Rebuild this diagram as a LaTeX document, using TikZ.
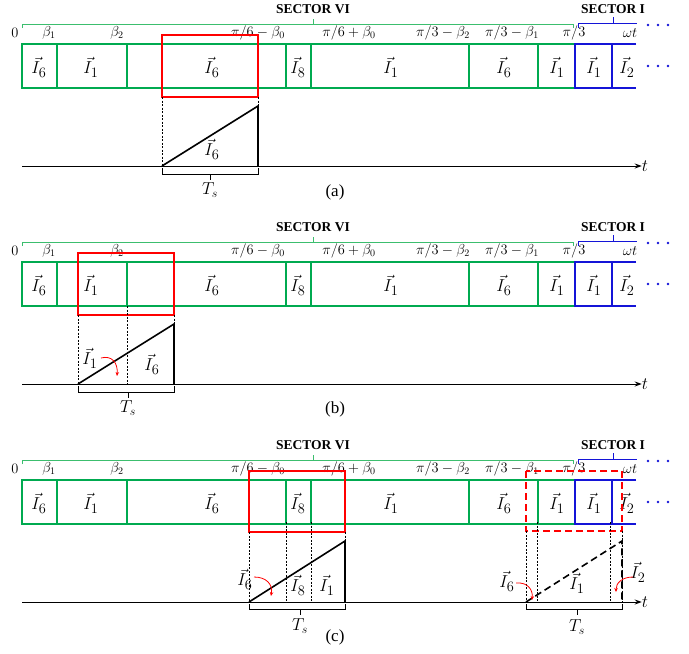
\documentclass[tikz,border=0pt]{standalone}
\usepackage{fontspec}
\setmainfont{Liberation Serif}
\usetikzlibrary{arrows.meta}
\definecolor{boxgreen}{RGB}{0,170,80}
\definecolor{bracegreen}{RGB}{60,190,110}
\definecolor{secblue}{RGB}{20,20,215}

\begin{document}
\begin{tikzpicture}[x=1pt, y=-1pt,
  every node/.style={align=center, inner sep=0pt},
  veclab/.style={font=\fontsize{19}{20}\selectfont},
  anglab/.style={font=\fontsize{14.5}{16}\selectfont},
  seclab/.style={font=\fontsize{13.5}{15}\selectfont\bfseries},
  caplab/.style={font=\fontsize{17}{19}\selectfont},
  greenline/.style={draw=boxgreen, line width=1.6pt},
  blueline/.style={draw=secblue, line width=1.6pt},
  redbox/.style={draw=red, line width=1.7pt},
  guide/.style={dash pattern=on 2pt off 1.5pt, line width=0.4pt},
  ramp/.style={line width=1.6pt},
  swarrow/.style={red, line width=0.8pt, -{Stealth[length=4pt, width=3.5pt]}},
  tsbrace/.style={line width=0.9pt}]
\useasboundingbox (0,0) rectangle (689,654);
\foreach \dy/\p in {0/a,218/b,436/c}{
  \begin{scope}[yshift=-\dy pt]
    \node[seclab] (secvi\p) at (313,9) {SECTOR VI};
    \node[seclab] (seci\p) at (613,9) {SECTOR I};
    \draw[draw=bracegreen, line width=1pt] (22,28) -- (22,24) -- (573,24) -- (573,28) (313,24) -- (313,19);
    \draw[draw=secblue, line width=1pt] (578,28) -- (578,23) -- (637,23) (613,23) -- (613,17);
    \foreach \x/\t in {15/{$0$}, 49/{$\beta_1$}, 117/{$\beta_2$}, 258/{$\pi/6-\beta_0$}, 349/{$\pi/6+\beta_0$},
                       443/{$\pi/3-\beta_2$}, 512/{$\pi/3-\beta_1$}, 574/{$\pi/3$}, 630/{$\omega t$}}
      \node[anglab] (ang\p\x) at (\x,33) {\t};
    \draw[greenline] (22,44) rectangle (575,88);
    \foreach \x in {57,127,286,311,469,538}
      \draw[greenline] (\x,44) -- (\x,88);
    \draw[blueline] (636,44) -- (575,44) -- (575,88) -- (636,88) (612,44) -- (612,88);
    \foreach \x/\n in {39/6, 91/1, 212/6, 298/8, 391/1, 504/6, 557/1, 594/1, 627/2}
      \node[veclab] (vec\p\x) at (\x,67) {$\vec{I}_{\n}$};
    \foreach \x in {648,658,668}{
      \fill[secblue] (\x,25) circle (1.4pt);
      \fill[secblue] (\x,66) circle (1.4pt);
    }
    \node[caplab] (t\p) at (645,166) {$t$};
    \draw[line width=1pt, -{Stealth[length=7pt, width=5pt]}] (22,166) -- (t\p.west);
  \end{scope}
}

\draw[redbox] (162,35) rectangle (258,97);
\draw[guide] (162,97) -- (162,166) (258,97) -- (258,166);
\draw[ramp] (162,166) -- (258,106) -- (258,166);
\node[veclab] (rampa) at (212,149) {$\vec{I}_{6}$};
\draw[tsbrace] (162,168) -- (162,174) -- (258,174) -- (258,168) (210,174) -- (210,180);
\node[caplab] (tsa) at (210,190) {$T_s$};
\node[caplab] (capa) at (335,192) {(a)};

\draw[redbox] (78,253) rectangle (174,315);
\draw[guide] (78,315) -- (78,384) (127,306) -- (127,384) (174,315) -- (174,384);
\draw[ramp] (78,384) -- (174,324) -- (174,384);
\node[veclab] (oneb) at (90,358) {$\vec{I}_{1}$};
\node[veclab] (sixb) at (152,364) {$\vec{I}_{6}$};
\draw[swarrow] (101,358) .. controls (112,355) and (118,363) .. (117,376);
\draw[tsbrace] (78,386) -- (78,392) -- (174,392) -- (174,386) (128,392) -- (128,398);
\node[caplab] (tsb) at (128,408) {$T_s$};
\node[caplab] (capb) at (335,409) {(b)};

\draw[redbox] (249,471) rectangle (345,532);
\draw[guide] (249,532) -- (249,602) (286,522) -- (286,602) (311,522) -- (311,602) (345,532) -- (345,602);
\draw[ramp] (249,602) -- (345,541) -- (345,602);
\node[veclab] (sixc) at (245,579) {$\vec{I}_{6}$};
\node[veclab] (eightc) at (298,585) {$\vec{I}_{8}$};
\node[veclab] (onec) at (327,585) {$\vec{I}_{1}$};
\draw[swarrow] (254,577) .. controls (266,577) and (273,584) .. (271,596);
\draw[tsbrace] (249,604) -- (249,609) -- (345,609) -- (345,604) (300,609) -- (300,615);
\node[caplab] (tsc) at (300,626) {$T_s$};
\node[caplab] (capc) at (335,637) {(c)};

\draw[redbox, dash pattern=on 7pt off 4pt] (526,471) rectangle (622,531);
\draw[guide] (526,531) -- (526,602) (537,522) -- (537,602) (610,522) -- (610,602) (622,531) -- (622,602);
\draw[ramp, dash pattern=on 7pt off 4pt] (526,602) -- (622,541) -- (622,602);
\node[veclab] (sixd) at (507,581) {$\vec{I}_{6}$};
\node[veclab] (oned) at (577,583) {$\vec{I}_{1}$};
\node[veclab] (twod) at (638,572) {$\vec{I}_{2}$};
\draw[swarrow] (516,583) .. controls (528,582) and (533,590) .. (532,600);
\draw[swarrow] (633,577) .. controls (622,577) and (616,583) .. (616,592);
\draw[tsbrace] (526,604) -- (526,609) -- (622,609) -- (622,604) (577,609) -- (577,615);
\node[caplab] (tsd) at (577,627) {$T_s$};
\end{tikzpicture}
\end{document}
